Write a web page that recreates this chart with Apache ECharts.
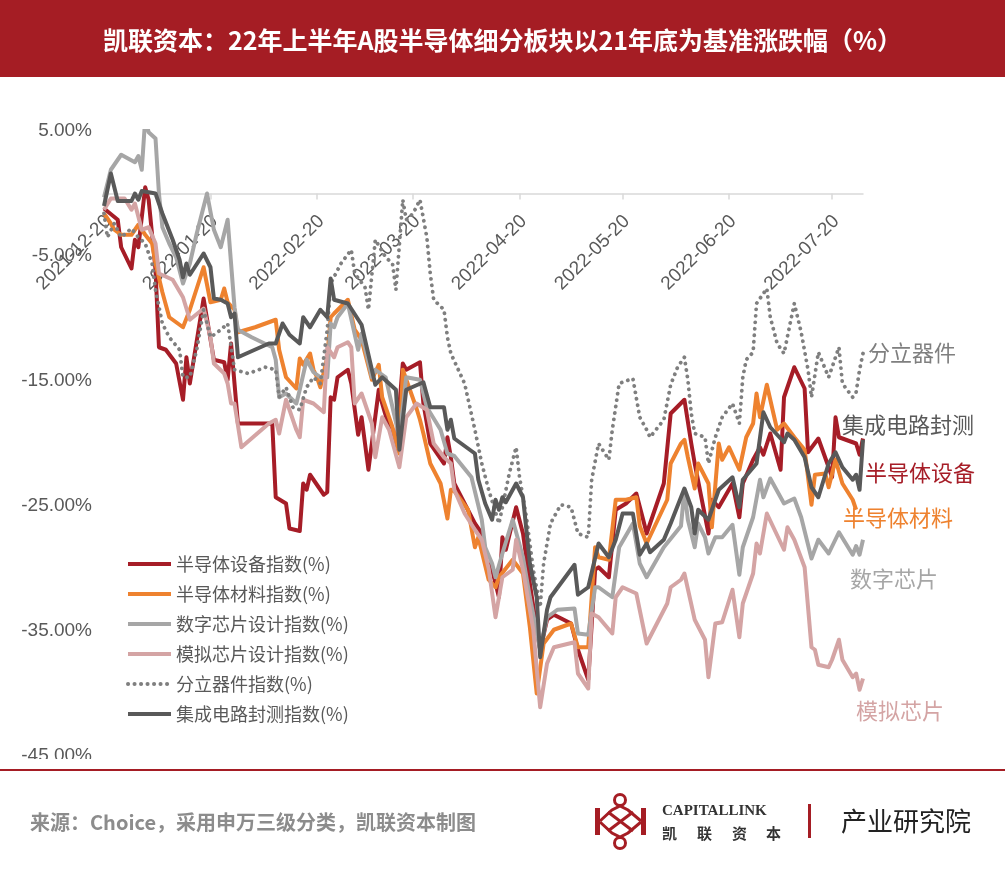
<!DOCTYPE html>
<html>
<head>
<meta charset="utf-8">
<title>凯联资本：22年上半年A股半导体细分板块涨跌幅</title>
<script src="https://cdn.jsdelivr.net/npm/echarts@6/dist/echarts.min.js"></script>
<style>
  html, body { margin: 0; padding: 0; background: #fff; }
  #chart { width: 1005px; height: 872px; }
</style>
</head>
<body>
<div id="chart"></div>
<script>
// 刻度日期（每月20日）
var tickDates = ['2021-12-20', '2022-01-20', '2022-02-20', '2022-03-20', '2022-04-20', '2022-05-20', '2022-06-20', '2022-07-20'];
var startDate = '2021-12-20';
var endDate = '2022-07-29';

var seriesNames = ['半导体设备指数(%)', '半导体材料指数(%)', '数字芯片设计指数(%)', '模拟芯片设计指数(%)', '分立器件指数(%)', '集成电路封测指数(%)'];
var endLabels = ['半导体设备', '半导体材料', '数字芯片', '模拟芯片', '分立器件', '集成电路封测'];
var colors = ['#A61D27', '#EE822F', '#A6A6A6', '#D4A4A4', '#7F7F7F', '#595959'];

// 半导体设备
var equipData = [['2021-12-20',-1.2],['2021-12-24',-2.1],['2021-12-25',-4.3],['2021-12-28',-6.0],['2021-12-29',-3.7],['2021-12-30',-4.3],['2022-01-01',0.5],['2022-01-02',-0.5],['2022-01-04',-6.1],['2022-01-05',-12.3],['2022-01-07',-12.5],['2022-01-10',-13.6],['2022-01-12',-16.5],['2022-01-13',-13.1],['2022-01-14',-15.2],['2022-01-18',-8.4],['2022-01-21',-13.3],['2022-01-24',-13.5],['2022-01-25',-14.9],['2022-01-26',-12.0],['2022-01-28',-18.4],['2022-02-07',-18.4],['2022-02-08',-24.3],['2022-02-11',-24.8],['2022-02-12',-26.8],['2022-02-15',-27.0],['2022-02-16',-23.2],['2022-02-17',-23.7],['2022-02-18',-22.5],['2022-02-22',-24.1],['2022-02-23',-23.9],['2022-02-24',-16.3],['2022-02-25',-16.5],['2022-02-26',-14.7],['2022-03-01',-14.1],['2022-03-02',-15.2],['2022-03-04',-19.3],['2022-03-05',-17.9],['2022-03-07',-22.1],['2022-03-10',-15.7],['2022-03-11',-16.8],['2022-03-13',-18.7],['2022-03-15',-20.5],['2022-03-17',-13.6],['2022-03-18',-14.1],['2022-03-22',-13.5],['2022-03-23',-16.8],['2022-03-25',-20.0],['2022-03-29',-21.6],['2022-03-30',-19.5],['2022-03-31',-21.1],['2022-04-01',-23.2],['2022-04-07',-26.4],['2022-04-09',-27.2],['2022-04-10',-29.3],['2022-04-12',-30.1],['2022-04-14',-32.3],['2022-04-15',-27.5],['2022-04-16',-28.5],['2022-04-19',-25.1],['2022-04-21',-27.2],['2022-04-23',-31.2],['2022-04-25',-34.9],['2022-04-26',-36.5],['2022-04-28',-34.1],['2022-04-30',-33.7],['2022-05-05',-34.4],['2022-05-07',-36.5],['2022-05-10',-38.9],['2022-05-12',-30.1],['2022-05-13',-29.9],['2022-05-16',-30.7],['2022-05-18',-25.3],['2022-05-21',-24.8],['2022-05-24',-24.0],['2022-05-26',-26.1],['2022-05-27',-27.2],['2022-06-01',-23.2],['2022-06-03',-17.6],['2022-06-07',-16.5],['2022-06-09',-20.0],['2022-06-10',-21.6],['2022-06-14',-27.2],['2022-06-15',-24.5],['2022-06-17',-25.1],['2022-06-21',-23.2],['2022-06-23',-25.9],['2022-06-24',-23.2],['2022-06-27',-21.3],['2022-06-29',-20.3],['2022-06-30',-20.9],['2022-07-02',-19.2],['2022-07-05',-22.1],['2022-07-06',-16.3],['2022-07-09',-13.9],['2022-07-12',-15.6],['2022-07-13',-20.7],['2022-07-16',-19.6],['2022-07-19',-21.9],['2022-07-20',-22.7],['2022-07-21',-17.9],['2022-07-22',-19.5],['2022-07-27',-20.0],['2022-07-28',-20.9],['2022-07-29',-19.6]];

// 半导体材料
var materialData = [['2021-12-20',-1.6],['2021-12-22',-2.4],['2021-12-23',-2.9],['2021-12-25',-3.3],['2021-12-28',-3.3],['2021-12-30',-2.5],['2022-01-01',-3.3],['2022-01-03',-4.0],['2022-01-04',-5.6],['2022-01-06',-7.9],['2022-01-08',-9.9],['2022-01-12',-10.7],['2022-01-14',-9.3],['2022-01-18',-5.9],['2022-01-20',-8.7],['2022-01-23',-8.5],['2022-01-24',-7.6],['2022-01-25',-8.7],['2022-01-27',-9.3],['2022-01-28',-11.1],['2022-02-02',-10.7],['2022-02-08',-10.1],['2022-02-09',-12.5],['2022-02-11',-14.7],['2022-02-14',-15.6],['2022-02-15',-13.2],['2022-02-16',-13.7],['2022-02-18',-12.8],['2022-02-19',-14.1],['2022-02-20',-14.7],['2022-02-21',-15.5],['2022-02-23',-13.1],['2022-02-24',-9.9],['2022-02-25',-9.6],['2022-03-01',-8.5],['2022-03-03',-10.9],['2022-03-05',-11.7],['2022-03-08',-14.9],['2022-03-10',-13.7],['2022-03-11',-16.3],['2022-03-14',-18.7],['2022-03-16',-20.8],['2022-03-17',-14.1],['2022-03-21',-17.2],['2022-03-22',-18.1],['2022-03-23',-19.2],['2022-03-25',-21.6],['2022-03-28',-23.2],['2022-03-30',-26.0],['2022-03-31',-23.7],['2022-04-01',-23.8],['2022-04-05',-25.3],['2022-04-07',-28.3],['2022-04-08',-27.5],['2022-04-11',-30.9],['2022-04-13',-31.5],['2022-04-14',-30.7],['2022-04-18',-29.3],['2022-04-21',-30.4],['2022-04-23',-34.7],['2022-04-25',-40.0],['2022-04-27',-36.0],['2022-04-30',-34.9],['2022-05-05',-34.4],['2022-05-07',-36.3],['2022-05-10',-36.3],['2022-05-12',-28.3],['2022-05-13',-29.1],['2022-05-16',-29.3],['2022-05-18',-24.5],['2022-05-21',-24.5],['2022-05-24',-24.3],['2022-05-25',-26.6],['2022-05-27',-28.0],['2022-06-02',-24.5],['2022-06-03',-21.6],['2022-06-06',-20.0],['2022-06-07',-19.7],['2022-06-08',-21.1],['2022-06-10',-23.6],['2022-06-11',-21.6],['2022-06-14',-23.2],['2022-06-15',-26.7],['2022-06-17',-20.0],['2022-06-18',-21.3],['2022-06-20',-20.3],['2022-06-23',-22.1],['2022-06-25',-19.5],['2022-06-27',-18.4],['2022-06-28',-16.0],['2022-06-29',-17.9],['2022-07-01',-15.3],['2022-07-04',-18.9],['2022-07-06',-18.4],['2022-07-09',-19.5],['2022-07-12',-20.5],['2022-07-14',-24.9],['2022-07-15',-22.5],['2022-07-18',-22.4],['2022-07-19',-23.5],['2022-07-21',-21.3],['2022-07-23',-23.2],['2022-07-26',-24.5],['2022-07-27',-25.3]];

// 数字芯片设计
var digitalData = [['2021-12-20',-0.3],['2021-12-22',1.9],['2021-12-25',3.1],['2021-12-29',2.5],['2021-12-30',3.0],['2021-12-31',1.9],['2022-01-01',6.0],['2022-01-02',4.9],['2022-01-04',4.4],['2022-01-05',0.0],['2022-01-06',-2.7],['2022-01-08',-4.0],['2022-01-10',-5.1],['2022-01-12',-7.2],['2022-01-14',-5.6],['2022-01-16',-3.2],['2022-01-19',0.0],['2022-01-21',-2.9],['2022-01-23',-4.3],['2022-01-25',-2.1],['2022-01-26',-5.6],['2022-01-27',-9.1],['2022-01-28',-10.9],['2022-02-01',-11.5],['2022-02-07',-12.3],['2022-02-08',-13.3],['2022-02-09',-16.3],['2022-02-11',-16.0],['2022-02-14',-16.8],['2022-02-15',-15.7],['2022-02-17',-13.3],['2022-02-19',-14.3],['2022-02-21',-14.7],['2022-02-23',-14.7],['2022-02-24',-10.4],['2022-02-25',-10.7],['2022-02-26',-9.9],['2022-03-01',-8.8],['2022-03-04',-12.5],['2022-03-05',-11.2],['2022-03-08',-14.7],['2022-03-09',-14.1],['2022-03-12',-14.7],['2022-03-16',-19.5],['2022-03-18',-14.7],['2022-03-22',-14.9],['2022-03-24',-17.1],['2022-03-28',-18.9],['2022-03-30',-20.8],['2022-04-01',-21.0],['2022-04-06',-22.7],['2022-04-09',-26.1],['2022-04-10',-28.3],['2022-04-12',-29.6],['2022-04-13',-30.7],['2022-04-15',-28.8],['2022-04-18',-26.1],['2022-04-21',-29.1],['2022-04-23',-32.3],['2022-04-26',-36.5],['2022-04-28',-33.9],['2022-05-01',-33.3],['2022-05-06',-33.2],['2022-05-07',-35.2],['2022-05-10',-35.3],['2022-05-12',-31.5],['2022-05-13',-31.5],['2022-05-17',-32.3],['2022-05-19',-28.3],['2022-05-23',-26.4],['2022-05-25',-29.6],['2022-05-27',-30.7],['2022-06-01',-28.3],['2022-06-06',-26.6],['2022-06-07',-23.7],['2022-06-08',-26.1],['2022-06-10',-28.3],['2022-06-11',-26.4],['2022-06-13',-27.5],['2022-06-14',-28.8],['2022-06-16',-27.5],['2022-06-18',-27.5],['2022-06-21',-26.5],['2022-06-23',-30.5],['2022-06-24',-28.3],['2022-06-27',-25.9],['2022-06-29',-22.9],['2022-06-30',-24.3],['2022-07-02',-22.8],['2022-07-06',-24.8],['2022-07-09',-24.4],['2022-07-11',-25.9],['2022-07-14',-29.2],['2022-07-16',-27.7],['2022-07-19',-28.8],['2022-07-22',-27.1],['2022-07-24',-28.0],['2022-07-26',-28.9],['2022-07-27',-28.2],['2022-07-28',-28.9],['2022-07-29',-27.7]];

// 模拟芯片设计
var analogData = [['2021-12-20',-1.3],['2021-12-22',-0.4],['2021-12-26',-0.4],['2021-12-28',-1.3],['2021-12-29',-0.8],['2021-12-31',-2.9],['2022-01-02',-2.7],['2022-01-04',-4.0],['2022-01-05',-6.4],['2022-01-09',-6.9],['2022-01-12',-8.3],['2022-01-14',-10.1],['2022-01-18',-9.2],['2022-01-20',-11.5],['2022-01-21',-13.6],['2022-01-24',-14.4],['2022-01-25',-15.2],['2022-01-26',-16.8],['2022-01-27',-16.8],['2022-01-29',-20.3],['2022-02-06',-18.4],['2022-02-08',-18.1],['2022-02-09',-19.2],['2022-02-11',-16.5],['2022-02-14',-18.9],['2022-02-15',-19.5],['2022-02-16',-16.5],['2022-02-19',-16.8],['2022-02-22',-17.5],['2022-02-23',-12.3],['2022-02-25',-13.1],['2022-02-26',-12.3],['2022-03-01',-11.9],['2022-03-02',-12.3],['2022-03-03',-16.8],['2022-03-05',-16.0],['2022-03-08',-18.4],['2022-03-09',-21.1],['2022-03-11',-17.9],['2022-03-13',-18.9],['2022-03-16',-21.9],['2022-03-18',-17.9],['2022-03-21',-16.8],['2022-03-24',-17.3],['2022-03-26',-20.0],['2022-03-29',-21.1],['2022-03-31',-21.6],['2022-04-01',-23.7],['2022-04-04',-25.6],['2022-04-07',-26.9],['2022-04-09',-27.7],['2022-04-11',-30.0],['2022-04-13',-33.9],['2022-04-15',-30.7],['2022-04-18',-30.1],['2022-04-19',-27.7],['2022-04-21',-30.1],['2022-04-24',-34.9],['2022-04-26',-41.1],['2022-04-28',-37.6],['2022-04-30',-36.3],['2022-05-06',-35.9],['2022-05-07',-38.4],['2022-05-10',-39.6],['2022-05-11',-33.6],['2022-05-13',-33.9],['2022-05-17',-35.2],['2022-05-18',-32.3],['2022-05-20',-31.5],['2022-05-24',-32.0],['2022-05-27',-36.0],['2022-06-02',-32.8],['2022-06-03',-31.5],['2022-06-06',-30.9],['2022-06-07',-30.4],['2022-06-10',-34.1],['2022-06-13',-35.7],['2022-06-14',-38.7],['2022-06-16',-34.4],['2022-06-18',-34.3],['2022-06-21',-31.7],['2022-06-23',-35.5],['2022-06-24',-32.8],['2022-06-27',-30.4],['2022-06-28',-28.0],['2022-06-29',-28.8],['2022-07-01',-25.6],['2022-07-06',-28.5],['2022-07-07',-26.7],['2022-07-09',-27.7],['2022-07-12',-29.9],['2022-07-14',-36.3],['2022-07-15',-36.5],['2022-07-16',-37.7],['2022-07-19',-37.9],['2022-07-20',-37.3],['2022-07-22',-35.7],['2022-07-23',-37.3],['2022-07-26',-38.7],['2022-07-27',-38.4],['2022-07-28',-39.7],['2022-07-29',-38.8]];

// 分立器件
var discreteData = [['2021-12-20',-1.6],['2021-12-21',-3.5],['2021-12-23',-2.4],['2021-12-25',-3.5],['2021-12-28',-2.8],['2021-12-30',-3.5],['2022-01-01',-4.0],['2022-01-03',-5.6],['2022-01-04',-7.7],['2022-01-06',-10.4],['2022-01-08',-11.5],['2022-01-11',-12.5],['2022-01-12',-14.7],['2022-01-14',-14.7],['2022-01-16',-12.5],['2022-01-18',-9.3],['2022-01-20',-11.5],['2022-01-23',-10.9],['2022-01-25',-10.4],['2022-01-27',-14.1],['2022-01-31',-14.4],['2022-02-05',-13.9],['2022-02-08',-14.1],['2022-02-09',-16.3],['2022-02-11',-15.5],['2022-02-13',-17.1],['2022-02-15',-17.3],['2022-02-17',-15.5],['2022-02-19',-14.7],['2022-02-21',-15.2],['2022-02-23',-10.9],['2022-02-24',-7.2],['2022-02-27',-5.6],['2022-03-02',-4.5],['2022-03-03',-6.4],['2022-03-06',-7.5],['2022-03-07',-9.3],['2022-03-09',-3.7],['2022-03-12',-5.1],['2022-03-14',-5.6],['2022-03-15',-7.7],['2022-03-17',-0.5],['2022-03-18',-2.1],['2022-03-20',-1.6],['2022-03-22',-0.5],['2022-03-24',-3.5],['2022-03-25',-6.4],['2022-03-26',-8.5],['2022-03-29',-9.3],['2022-03-30',-11.5],['2022-03-31',-12.8],['2022-04-04',-15.2],['2022-04-07',-18.9],['2022-04-09',-21.6],['2022-04-11',-23.7],['2022-04-14',-26.4],['2022-04-15',-25.1],['2022-04-17',-22.4],['2022-04-19',-20.3],['2022-04-20',-22.7],['2022-04-22',-25.9],['2022-04-24',-30.1],['2022-04-26',-33.1],['2022-04-27',-29.6],['2022-04-29',-26.4],['2022-05-02',-24.9],['2022-05-05',-25.1],['2022-05-07',-27.2],['2022-05-10',-27.5],['2022-05-11',-22.9],['2022-05-13',-20.0],['2022-05-16',-21.3],['2022-05-17',-18.9],['2022-05-19',-15.2],['2022-05-23',-14.8],['2022-05-25',-17.9],['2022-05-27',-18.9],['2022-05-28',-19.5],['2022-06-01',-18.1],['2022-06-03',-15.3],['2022-06-05',-13.9],['2022-06-07',-13.1],['2022-06-08',-14.9],['2022-06-09',-17.6],['2022-06-10',-19.2],['2022-06-13',-19.5],['2022-06-14',-21.6],['2022-06-16',-19.5],['2022-06-18',-17.9],['2022-06-21',-16.8],['2022-06-23',-18.4],['2022-06-24',-14.7],['2022-06-25',-13.3],['2022-06-27',-12.7],['2022-06-28',-8.8],['2022-07-01',-7.6],['2022-07-02',-9.9],['2022-07-04',-12.0],['2022-07-06',-12.8],['2022-07-08',-10.1],['2022-07-09',-8.8],['2022-07-11',-11.1],['2022-07-13',-14.1],['2022-07-14',-16.3],['2022-07-16',-12.7],['2022-07-19',-14.7],['2022-07-22',-12.3],['2022-07-23',-15.2],['2022-07-26',-16.3],['2022-07-27',-15.9],['2022-07-28',-14.1],['2022-07-29',-12.8]];

// 集成电路封测
var packagingData = [['2021-12-20',-1.0],['2021-12-22',1.6],['2021-12-24',-0.6],['2021-12-28',-0.6],['2021-12-29',0.0],['2021-12-30',-0.5],['2021-12-31',0.2],['2022-01-04',0.0],['2022-01-06',-1.6],['2022-01-09',-3.7],['2022-01-11',-5.3],['2022-01-12',-6.7],['2022-01-13',-5.6],['2022-01-14',-6.5],['2022-01-18',-4.8],['2022-01-20',-5.9],['2022-01-21',-8.4],['2022-01-23',-8.5],['2022-01-25',-8.8],['2022-01-26',-9.9],['2022-01-27',-9.6],['2022-01-28',-13.1],['2022-02-06',-12.0],['2022-02-08',-12.0],['2022-02-10',-10.4],['2022-02-12',-11.3],['2022-02-15',-12.0],['2022-02-16',-9.9],['2022-02-18',-10.7],['2022-02-21',-9.3],['2022-02-23',-9.9],['2022-02-24',-6.8],['2022-02-25',-8.5],['2022-03-01',-8.8],['2022-03-05',-10.5],['2022-03-09',-15.3],['2022-03-11',-14.7],['2022-03-15',-15.7],['2022-03-16',-20.5],['2022-03-18',-15.7],['2022-03-23',-15.1],['2022-03-25',-17.1],['2022-03-29',-17.1],['2022-03-30',-18.9],['2022-03-31',-18.1],['2022-04-01',-19.6],['2022-04-07',-20.8],['2022-04-08',-22.9],['2022-04-10',-24.8],['2022-04-12',-26.1],['2022-04-13',-24.5],['2022-04-14',-25.3],['2022-04-15',-24.3],['2022-04-16',-24.7],['2022-04-19',-23.2],['2022-04-21',-24.3],['2022-04-23',-29.6],['2022-04-25',-32.3],['2022-04-26',-37.1],['2022-04-28',-33.3],['2022-04-29',-32.3],['2022-05-06',-29.7],['2022-05-07',-32.1],['2022-05-10',-31.5],['2022-05-13',-28.0],['2022-05-16',-29.1],['2022-05-18',-27.7],['2022-05-20',-25.6],['2022-05-23',-25.6],['2022-05-25',-28.9],['2022-05-27',-28.0],['2022-05-28',-28.7],['2022-06-01',-27.7],['2022-06-03',-26.4],['2022-06-06',-24.3],['2022-06-07',-23.6],['2022-06-09',-25.1],['2022-06-10',-27.2],['2022-06-11',-25.3],['2022-06-14',-26.1],['2022-06-17',-23.7],['2022-06-21',-22.7],['2022-06-23',-25.1],['2022-06-24',-22.9],['2022-06-28',-21.6],['2022-06-30',-17.5],['2022-07-02',-18.7],['2022-07-06',-19.9],['2022-07-07',-19.2],['2022-07-09',-19.7],['2022-07-12',-21.1],['2022-07-14',-23.5],['2022-07-16',-24.3],['2022-07-19',-21.6],['2022-07-21',-20.7],['2022-07-23',-21.9],['2022-07-26',-22.9],['2022-07-27',-22.5],['2022-07-28',-23.7],['2022-07-29',-19.7]];

var allData = [equipData, materialData, digitalData, analogData, discreteData, packagingData];

// 自然日作为类目
function fmt(d) {
	var m = d.getUTCMonth() + 1, day = d.getUTCDate();
	return d.getUTCFullYear() + '-' + (m < 10 ? '0' + m : m) + '-' + (day < 10 ? '0' + day : day);
}
var dates = [];
var cur = new Date(startDate + 'T00:00:00Z');
var last = new Date(endDate + 'T00:00:00Z');
while (cur <= last) {
	dates.push(fmt(cur));
	cur = new Date(cur.getTime() + 86400000);
}
function isTick(index, value) {
	return tickDates.indexOf(value) >= 0;
}

var yMin = -45, yMax = 5;
var gridTop = 131, gridBottom = 116;
// x轴放在0%处
var plotH = 872 - gridTop - gridBottom;
var zeroOffset = -plotH * (0 - yMin) / (yMax - yMin);

var series = [];
for (var i = 0; i < seriesNames.length; i++) {
	series.push({
		name: seriesNames[i],
		type: 'line',
		data: allData[i],
		symbol: 'none',
		connectNulls: true,
		color: colors[i],
		lineStyle: i === 4
			? { width: 3.8, color: colors[i], type: [0.1, 6.4], cap: 'round' }
			: { width: 4, color: colors[i], join: 'round' }
	});
}

// 右侧系列标签位置
var labelPos = [[865, 473], [843, 518], [850, 579], [856, 711], [868, 353], [842, 425]];
var graphics = [
	{ type: 'rect', shape: { x: 0, y: 0, width: 1005, height: 77 }, style: { fill: '#A51D24' } },
	{ type: 'rect', z: 100, shape: { x: 0, y: 759, width: 120, height: 10 }, style: { fill: '#fff' } },
	{ type: 'rect', shape: { x: 0, y: 769, width: 1005, height: 2 }, style: { fill: '#A51D24' } },
	{ type: 'text', x: 30, y: 822, style: { text: '来源：Choice，采用申万三级分类，凯联资本制图', fill: '#8C8C8C', font: 'bold 20px "Noto Sans CJK SC"', verticalAlign: 'middle' } },
	// logo
	{ type: 'circle', shape: { cx: 620, cy: 800, r: 5.5 }, style: { fill: 'none', stroke: '#A51D24', lineWidth: 3 } },
	{ type: 'circle', shape: { cx: 620, cy: 843, r: 5.5 }, style: { fill: 'none', stroke: '#A51D24', lineWidth: 3 } },
	{ type: 'rect', shape: { x: 595, y: 808, width: 5, height: 27 }, style: { fill: '#A51D24' } },
	{ type: 'rect', shape: { x: 641, y: 808, width: 5, height: 27 }, style: { fill: '#A51D24' } },
	{ type: 'polyline', shape: { points: [[600, 821], [612, 810], [620, 806], [628, 810], [641, 821]] }, style: { fill: 'none', stroke: '#A51D24', lineWidth: 3 } },
	{ type: 'polyline', shape: { points: [[600, 822], [612, 833], [620, 837], [628, 833], [641, 822]] }, style: { fill: 'none', stroke: '#A51D24', lineWidth: 3 } },
	{ type: 'line', shape: { x1: 608, y1: 812, x2: 633, y2: 831 }, style: { stroke: '#A51D24', lineWidth: 3 } },
	{ type: 'line', shape: { x1: 633, y1: 812, x2: 608, y2: 831 }, style: { stroke: '#A51D24', lineWidth: 3 } },
	{ type: 'text', x: 662, y: 811, style: { text: 'CAPITALLINK', fill: '#333', font: 'bold 15px "Liberation Serif"', verticalAlign: 'middle' } },
	{ type: 'text', x: 662, y: 833, style: { text: '凯', fill: '#333', font: 'bold 15px "Noto Sans CJK SC"', verticalAlign: 'middle' } },
	{ type: 'text', x: 697, y: 833, style: { text: '联', fill: '#333', font: 'bold 15px "Noto Sans CJK SC"', verticalAlign: 'middle' } },
	{ type: 'text', x: 732, y: 833, style: { text: '资', fill: '#333', font: 'bold 15px "Noto Sans CJK SC"', verticalAlign: 'middle' } },
	{ type: 'text', x: 766, y: 833, style: { text: '本', fill: '#333', font: 'bold 15px "Noto Sans CJK SC"', verticalAlign: 'middle' } },
	{ type: 'rect', shape: { x: 808, y: 804, width: 3, height: 34 }, style: { fill: '#A51D24' } },
	{ type: 'text', x: 841, y: 821, style: { text: '产业研究院', fill: '#222', font: '26px "Noto Sans CJK SC"', verticalAlign: 'middle' } }
];
for (var j = 0; j < endLabels.length; j++) {
	graphics.push({
		type: 'text', x: labelPos[j][0], y: labelPos[j][1],
		style: { text: endLabels[j], fill: colors[j], font: '22px "Noto Sans CJK SC"', verticalAlign: 'middle' }
	});
}

var myChart = echarts.init(document.getElementById('chart'));
var option = {
	animation: false,
	backgroundColor: '#fff',
	title: {
		text: '凯联资本：22年上半年A股半导体细分板块以21年底为基准涨跌幅（%）',
		left: 'center',
		top: 23,
		textStyle: { color: '#fff', fontSize: 25, fontWeight: 'bold', fontFamily: 'Noto Sans CJK SC' }
	},
	legend: {
		data: seriesNames,
		orient: 'vertical',
		left: 121,
		top: 550,
		itemWidth: 43,
		itemHeight: 14,
		itemGap: 12,
		itemStyle: { opacity: 0 },
		lineStyle: { width: 4 },
		textStyle: { fontSize: 18, color: '#595959', fontFamily: 'Noto Sans CJK SC' }
	},
	grid: { left: 104, right: 142, top: gridTop, bottom: gridBottom, containLabel: false },
	xAxis: {
		type: 'category',
		data: dates,
		boundaryGap: false,
		position: 'bottom',
		offset: zeroOffset,
		axisLine: { onZero: false, lineStyle: { color: '#D9D9D9', width: 1.5 } },
		axisTick: { show: true, interval: isTick, length: 6, lineStyle: { color: '#D9D9D9', width: 1.5 } },
		axisLabel: { interval: isTick, rotate: 45, margin: 29, padding: [0, -6, 0, 0], color: '#595959', fontSize: 19, fontFamily: 'Liberation Sans' },
		splitLine: { show: false }
	},
	yAxis: {
		type: 'value',
		min: yMin,
		max: yMax,
		interval: 10,
		axisLine: { show: false },
		axisTick: { show: false },
		splitLine: { show: false },
		axisLabel: {
			margin: 12,
			color: '#595959',
			fontSize: 19,
			fontFamily: 'Liberation Sans',
			formatter: function (v) { return v.toFixed(2) + '%'; }
		}
	},
	series: series,
	graphic: graphics
};
myChart.setOption(option);
</script>
</body>
</html>
